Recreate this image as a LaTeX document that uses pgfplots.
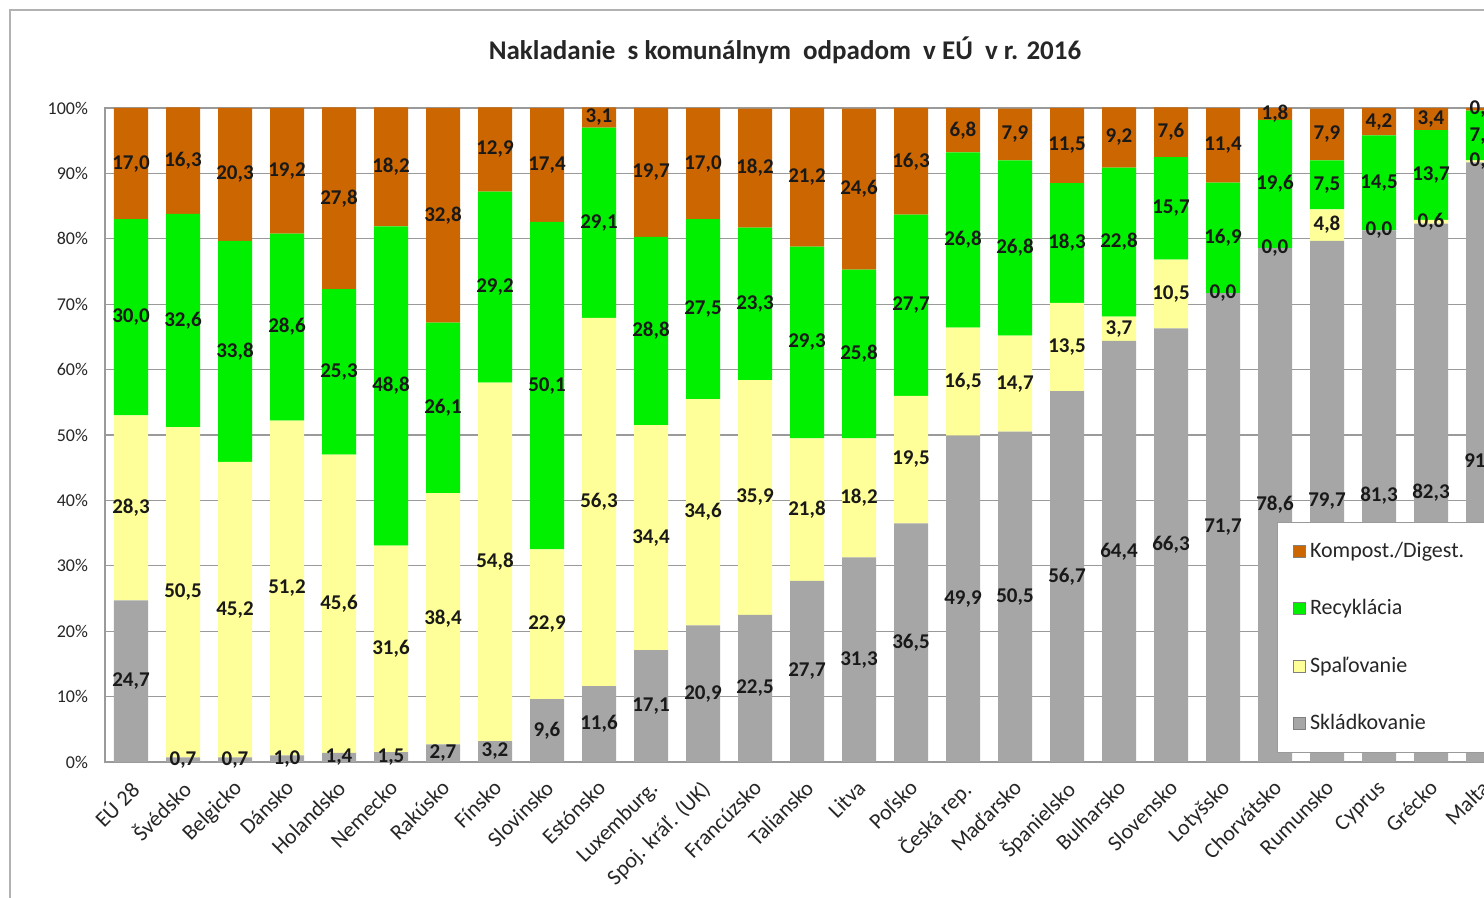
\documentclass[border=0pt]{standalone}
\usepackage{pgfplots}
\pgfplotsset{compat=1.18}
\usepackage{pgfplotstable}
\usepackage{fontspec}
\setmainfont{Carlito}
\definecolor{cland}{HTML}{A6A6A6}
\definecolor{cinc}{HTML}{FFFF99}
\definecolor{crec}{HTML}{00F000}
\definecolor{ccomp}{HTML}{CC6600}
\definecolor{gridgray}{HTML}{9A9A9A}

\pgfplotstableread{
x  land inc  rec  comp
0  24.7 28.3 30.0 17.0
1  0.7  50.5 32.6 16.3
2  0.7  45.2 33.8 20.3
3  1.0  51.2 28.6 19.2
4  1.4  45.6 25.3 27.8
5  1.5  31.6 48.8 18.2
6  2.7  38.4 26.1 32.8
7  3.2  54.8 29.2 12.9
8  9.6  22.9 50.1 17.4
9  11.6 56.3 29.1 3.1
10 17.1 34.4 28.8 19.7
11 20.9 34.6 27.5 17.0
12 22.5 35.9 23.3 18.2
13 27.7 21.8 29.3 21.2
14 31.3 18.2 25.8 24.6
15 36.5 19.5 27.7 16.3
16 49.9 16.5 26.8 6.8
17 50.5 14.7 26.8 7.9
18 56.7 13.5 18.3 11.5
19 64.4 3.7  22.8 9.2
20 66.3 10.5 15.7 7.6
21 71.7 0.0  16.9 11.4
22 78.6 0.0  19.6 1.8
23 79.7 4.8  7.5  7.9
24 81.3 0.0  14.5 4.2
25 82.3 0.6  13.7 3.4
26 91.7 0.3  7.6  0.4
}\datatable

\pgfplotsset{
  common/.style={
    at={(52.5pt,68pt)}, anchor=south west,
    scale only axis, width=702pt,
    xmin=-0.5, xmax=26.5, ymin=0,
    ybar stacked, bar width=17pt,
  }
}

\begin{document}
\begin{tikzpicture}
\begin{scope}
\clip (0,0) rectangle (742pt,449pt);
\fill[white] (0,0) rectangle (742pt,449pt);
\draw[gray!60, line width=0.9pt] (5pt,-5pt) -- (5pt,444pt) -- (800pt,444pt);
\node[font=\bfseries\fontsize{13.5}{16}\selectfont, text=black!85] at (392.5pt,424pt) {Nakladanie\ \ s komunálnym\ \ odpadom\ \ v EÚ\ \ v r. 2016};
% bars
\begin{axis}[
  common, height=327pt, ymax=100,
  axis line style={gridgray, line width=0.6pt},
  ymajorgrids, grid style={gridgray, line width=0.6pt},
  major tick length=0pt,
  ytick={0,10,20,30,40,50,60,70,80,90,100},
  yticklabels={0\%,10\%,20\%,30\%,40\%,50\%,60\%,70\%,80\%,90\%,100\%},
  yticklabel style={font=\fontsize{9}{11}\selectfont, text=black!85, xshift=-5pt},
  xtick={0,...,26},
  xticklabels={EÚ 28,Švédsko,Belgicko,Dánsko,Holandsko,Nemecko,Rakúsko,Fínsko,Slovinsko,Estónsko,Luxemburg.,Spoj. kráľ. (UK),Francúzsko,Taliansko,Litva,Poľsko,Česká rep.,Maďarsko,Španielsko,Bulharsko,Slovensko,Lotyšsko,Chorvátsko,Rumunsko,Cyprus,Grécko,Malta},
  xticklabel style={font=\fontsize{11}{13}\selectfont, text=black!85, xshift=-1.5pt, yshift=-3.5pt, rotate=45, anchor=north east},
  reverse legend,
  legend cell align=left,
  legend style={at={(axis cs:22.04,36.7)}, anchor=north west, draw=gridgray, fill=white, font=\fontsize{11}{13}\selectfont, text=black!85, inner xsep=8pt, inner ysep=8pt, row sep=15.5pt},
  legend image code/.code={\draw[#1, draw=gray, line width=0.3pt] (0pt,-3pt) rectangle (6pt,3pt);},
]
\addplot[fill=cland, draw=none] table[x=x, y=land]{\datatable};
\addplot[fill=cinc, draw=none] table[x=x, y=inc]{\datatable};
\addplot[fill=crec, draw=none] table[x=x, y=rec]{\datatable};
\addplot[fill=ccomp, draw=none] table[x=x, y=comp]{\datatable};
\legend{Skládkovanie,Spaľovanie,Recyklácia,Kompost./Digest.}
\end{axis}
% data labels on top of all bars (same y scale, slightly taller range)
\begin{axis}[
  common, height=330.27pt, ymax=101, hide axis, clip=false,
  /pgf/number format/assume math mode=true,
  visualization depends on={rawy \as \segval},
  nodes near coords={\pgfmathprintnumber[fixed,fixed zerofill,precision=1,use comma]{\segval}},
  every node near coord/.append style={anchor=center, font=\bfseries\fontsize{10.5}{12}\selectfont, text=black!90, inner sep=0pt},
]
\addplot[fill=none, draw=none] table[x=x, y expr=\thisrow{land}+0.0001]{\datatable};
\addplot[fill=none, draw=none] table[x=x, y expr=\thisrow{inc}+0.0001]{\datatable};
\addplot[fill=none, draw=none] table[x=x, y expr=\thisrow{rec}+0.0001]{\datatable};
\addplot[fill=none, draw=none] table[x=x, y expr=\thisrow{comp}+0.0001]{\datatable};
\end{axis}
\end{scope}
\pgfresetboundingbox
\useasboundingbox (0,0) rectangle (742pt,449pt);
\end{tikzpicture}
\end{document}
